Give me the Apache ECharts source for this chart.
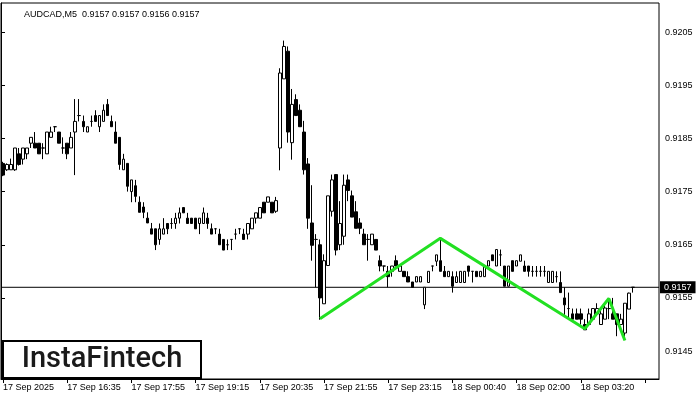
<!DOCTYPE html>
<html>
<head>
<meta charset="utf-8">
<script src="https://cdn.jsdelivr.net/npm/echarts@6/dist/echarts.min.js"></script>
<style>html,body{margin:0;padding:0;background:#fff;}#c{width:700px;height:400px;}</style>
</head>
<body>
<div id="c"></div>
<script>
// Tick labels on the time axis, one every 16 bars
const timeLabels = ['17 Sep 2025','17 Sep 16:35','17 Sep 17:55','17 Sep 19:15','17 Sep 20:35','17 Sep 21:55','17 Sep 23:15','18 Sep 00:40','18 Sep 02:00','18 Sep 03:20'];
// Price axis labels
const priceTicks = [0.9145, 0.9155, 0.9165, 0.9175, 0.9185, 0.9195, 0.9205];
const lastPrice = 0.9157;
// Candles: [open, high, low, close]
const ohlc = [
[.91803,.91806,.91779,.91781],[.91791,.91803,.91789,.91801],[.91791,.91812,.91791,.91801],[.91791,.91832,.91789,.91832],
[.91821,.91832,.91799,.91801],[.91811,.91832,.91801,.91832],[.91821,.91832,.91811,.91832],[.91841,.91852,.91832,.91852],
[.91841,.91862,.91832,.91832],[.91841,.91841,.91821,.91821],[.91832,.91841,.91811,.91832],[.91821,.91862,.91821,.91862],
[.91852,.91872,.91852,.91862],[.91872,.91872,.91862,.91872],[.91862,.91862,.91841,.91841],[.91832,.91852,.91821,.91832],
[.91841,.91841,.91811,.91821],[.91832,.91862,.91832,.91852],[.91862,.91924,.91781,.91882],[.91893,.91924,.91882,.91893],
[.91882,.91893,.91862,.91872],[.91862,.91872,.91862,.91872],[.91882,.91893,.91872,.91882],[.91893,.91903,.91882,.91882],
[.91872,.91893,.91862,.91893],[.91882,.91914,.91882,.91903],[.91914,.91924,.91893,.91893],[.91882,.91893,.91872,.91872],
[.91862,.91882,.91841,.91841],[.91852,.91852,.91791,.91801],[.91791,.91821,.91791,.91811],[.91803,.91803,.91750,.91760],
[.91750,.91772,.91730,.91772],[.91761,.91772,.91730,.91741],[.91730,.91741,.91711,.91711],[.91721,.91730,.91700,.91711],
[.91700,.91711,.91691,.91691],[.91680,.91691,.91670,.91670],[.91680,.91680,.91640,.91650],[.91660,.91690,.91650,.91680],
[.91670,.91700,.91670,.91680],[.91690,.91690,.91670,.91680],[.91690,.91700,.91680,.91690],[.91690,.91710,.91680,.91700],
[.91700,.91720,.91690,.91710],[.91720,.91720,.91710,.91710],[.91700,.91710,.91690,.91690],[.91700,.91700,.91690,.91690],
[.91700,.91700,.91680,.91680],[.91690,.91700,.91670,.91700],[.91690,.91720,.91690,.91710],[.91700,.91710,.91680,.91690],
[.91680,.91690,.91670,.91670],[.91680,.91680,.91670,.91680],[.91670,.91680,.91650,.91650],[.91660,.91660,.91640,.91640],
[.91650,.91660,.91640,.91650],[.91660,.91660,.91640,.91660],[.91670,.91680,.91660,.91670],[.91680,.91680,.91670,.91680],
[.91670,.91680,.91660,.91660],[.91670,.91690,.91660,.91690],[.91680,.91700,.91680,.91700],[.91700,.91710,.91690,.91710],
[.91700,.91720,.91700,.91720],[.91730,.91730,.91710,.91710],[.91730,.91740,.91730,.91740],[.91730,.91730,.91710,.91710],
[.91713,.91740,.91710,.91733],[.91832,.91982,.91790,.91973],[.91962,.92034,.91962,.92023],[.92014,.92023,.91842,.91862],
[.91842,.91943,.91810,.91914],[.91923,.91933,.91893,.91893],[.91903,.91914,.91872,.91872],[.91862,.91883,.91782,.91791],
[.91802,.91813,.91680,.91700],[.91691,.91762,.91620,.91649],[.91660,.91670,.91570,.91660],[.91650,.91660,.91509,.91550],
[.91539,.91632,.91539,.91620],[.91611,.91742,.91611,.91742],[.91713,.91782,.91703,.91772],[.91782,.91782,.91630,.91640],
[.91650,.91732,.91640,.91690],[.91666,.91782,.91650,.91762],[.91772,.91782,.91732,.91752],[.91742,.91752,.91702,.91702],
[.91712,.91732,.91681,.91681],[.91691,.91700,.91670,.91681],[.91670,.91680,.91650,.91650],[.91660,.91670,.91620,.91660],
[.91650,.91670,.91650,.91670],[.91660,.91660,.91640,.91640],[.91620,.91630,.91600,.91610],[.91610,.91610,.91600,.91610],
[.91600,.91610,.91570,.91590],[.91600,.91610,.91590,.91610],[.91620,.91630,.91610,.91610],[.91600,.91610,.91600,.91610],
[.91600,.91600,.91590,.91590],[.91590,.91600,.91580,.91580],[.91580,.91580,.91570,.91570],[.91580,.91590,.91580,.91590],
[.91580,.91590,.91580,.91590],[.91537,.91570,.91529,.91570],[.91579,.91600,.91579,.91600],[.91610,.91610,.91600,.91610],
[.91619,.91631,.91610,.91631],[.91620,.91661,.91600,.91600],[.91600,.91610,.91590,.91590],[.91590,.91600,.91590,.91600],
[.91590,.91600,.91560,.91572],[.91579,.91600,.91579,.91590],[.91579,.91600,.91579,.91600],[.91579,.91600,.91579,.91600],
[.91610,.91610,.91590,.91600],[.91600,.91600,.91579,.91600],[.91600,.91600,.91590,.91590],[.91590,.91600,.91590,.91600],
[.91590,.91610,.91590,.91610],[.91610,.91620,.91610,.91620],[.91631,.91631,.91620,.91620],[.91610,.91641,.91610,.91641],
[.91631,.91641,.91610,.91631],[.91610,.91610,.91572,.91572],[.91572,.91610,.91572,.91610],[.91620,.91620,.91600,.91600],
[.91610,.91620,.91610,.91620],[.91619,.91631,.91619,.91631],[.91610,.91620,.91600,.91600],[.91610,.91610,.91590,.91600],
[.91600,.91610,.91590,.91600],[.91600,.91610,.91590,.91600],[.91600,.91610,.91590,.91600],[.91600,.91610,.91590,.91600],
[.91579,.91600,.91579,.91600],[.91579,.91600,.91579,.91600],[.91590,.91600,.91579,.91590],[.91579,.91600,.91560,.91560],
[.91550,.91570,.91518,.91537],[.91530,.91560,.91510,.91530],[.91520,.91530,.91510,.91510],[.91520,.91530,.91510,.91510],
[.91520,.91530,.91500,.91510],[.91500,.91510,.91490,.91490],[.91500,.91530,.91500,.91520],[.91510,.91530,.91510,.91530],
[.91520,.91540,.91520,.91530],[.91500,.91530,.91500,.91520],[.91510,.91540,.91510,.91531],[.91530,.91550,.91510,.91530],
[.91520,.91550,.91510,.91510],[.91520,.91520,.91478,.91500],[.91500,.91520,.91500,.91510],[.91484,.91540,.91471,.91540],
[.91529,.91560,.91529,.91559],[.91570,.91570,.91560,.91570]
];
// Double-bottom pattern outline: [bar index, price]
const pattern = [[79, 0.91511], [109, 0.91662], [145, 0.91492], [151, 0.91549], [155, 0.91470]];
const header = 'AUDCAD,M5  0.9157 0.9157 0.9156 0.9157';
const logoText = 'InstaFintech';

const totalSlots = 164;
const cats = [];
for (let i = 0; i < totalSlots; i++) cats.push(i % 16 === 0 && timeLabels[i / 16] ? timeLabels[i / 16] : '');

const font = '"Liberation Sans", Arial, sans-serif';
const chart = echarts.init(document.getElementById('c'), null, {renderer: 'canvas'});
chart.setOption({
  animation: false,
  backgroundColor: '#fff',
  title: {text: header, left: 19, top: 5, textStyle: {fontFamily: font, fontSize: 9, fontWeight: 'normal', color: '#000'}},
  grid: {left: 1, right: 41, top: 3, bottom: 21, show: true, borderColor: '#000', borderWidth: 1, backgroundColor: 'transparent'},
  xAxis: [{
    type: 'category', data: cats, boundaryGap: true,
    axisLine: {show: true, lineStyle: {color: '#000', width: 1}},
    axisTick: {show: true, interval: 15, alignWithLabel: true, length: 4, lineStyle: {color: '#000'}},
    axisLabel: {interval: 15, align: 'left', margin: 4, color: '#000', fontFamily: font, fontSize: 9},
    splitLine: {show: false}
  }, {
    type: 'value', min: 0, max: 1, show: false, position: 'top'
  }],
  yAxis: {
    type: 'value', position: 'right', scale: true, min: 0.913975, max: 0.921047,
    axisLine: {show: true, lineStyle: {color: '#000', width: 1}},
    axisTick: {show: true, length: 4, customValues: priceTicks, lineStyle: {color: '#000'}},
    axisLabel: {customValues: priceTicks, margin: 6, color: '#000', fontFamily: font, fontSize: 9, formatter: v => v.toFixed(4)},
    splitLine: {show: false}
  },
  series: [
    {
      type: 'line', xAxisIndex: 1, data: [[0, lastPrice], [1, lastPrice]], symbol: 'none', silent: true,
      lineStyle: {color: '#000', width: 1}, z: 1,
      endLabel: {show: true, distance: 1, formatter: () => lastPrice.toFixed(4), backgroundColor: '#000', color: '#fff', padding: [2, 4, 1, 4], fontFamily: font, fontSize: 9}
    },
    {
      type: 'candlestick',
      data: ohlc.map(r => [r[0], r[3], r[2], r[1]]),
      barWidth: 3,
      itemStyle: {color: '#fff', color0: '#000', borderColor: '#000', borderColor0: '#000', borderWidth: 1},
      z: 2
    },
    {
      type: 'line', data: pattern, symbol: 'none', silent: true,
      lineStyle: {color: '#22e022', width: 3}, z: 3
    }
  ],
  graphic: [
    {type: 'rect', shape: {x: 3, y: 341, width: 198, height: 37}, style: {fill: '#fff', stroke: '#000', lineWidth: 2}, z: 10},
    {type: 'text', x: 102, y: 360, style: {text: logoText, font: '500 29px Roboto, "Noto Sans", sans-serif', fill: '#1a1a1a', align: 'center', verticalAlign: 'middle'}, z: 11}
  ]
});
</script>
</body>
</html>
